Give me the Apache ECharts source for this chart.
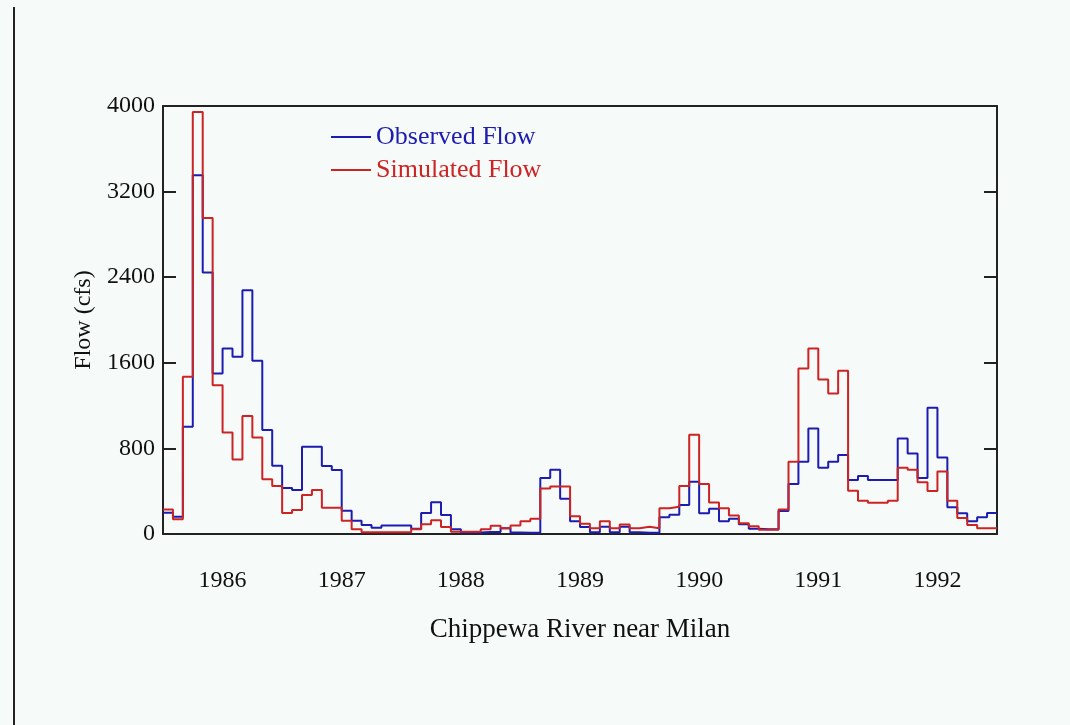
<!DOCTYPE html>
<html>
<head>
<meta charset="utf-8">
<title>Chippewa River near Milan</title>
<script src="https://cdn.jsdelivr.net/npm/echarts@6/dist/echarts.min.js"></script>
<style>
  html, body { margin: 0; padding: 0; background: #f6faf8; }
  #chart { width: 1070px; height: 725px; }
</style>
</head>
<body>
<div id="chart"></div>
<script>
// monthly flow, Jan 1986 .. Dec 1992 (cfs)
const years = ['1986', '1987', '1988', '1989', '1990', '1991', '1992'];
const yTicks = [0, 800, 1600, 2400, 3200, 4000];

const observed = [
  199, 162, 1002, 3352, 2443, 1500, 1734, 1656, 2278, 1618, 971, 638,
  430, 411, 815, 815, 636, 598, 218, 124, 84, 59, 80, 80,
  80, 50, 196, 297, 177, 44, 14, 14, 18, 18, 53, 14,
  12, 12, 523, 600, 330, 120, 65, 16, 68, 16, 68, 16,
  12, 12, 156, 180, 271, 488, 193, 235, 120, 143, 92, 50,
  44, 44, 216, 467, 675, 986, 618, 675, 738, 504, 541, 504,
  504, 504, 893, 753, 523, 1179, 716, 249, 193, 120, 156, 196
];

const simulated = [
  230, 137, 1469, 3943, 2953, 1391, 949, 697, 1102, 903, 511, 448,
  196, 224, 364, 411, 246, 246, 124, 44, 16, 16, 16, 16,
  16, 44, 90, 128, 65, 22, 22, 22, 44, 78, 53, 80,
  120, 143, 426, 445, 445, 166, 96, 53, 118, 53, 89, 53,
  68, 53, 240, 255, 448, 928, 467, 294, 240, 174, 100, 72,
  40, 40, 230, 675, 1547, 1734, 1445, 1313, 1525, 404, 311, 292,
  292, 311, 620, 600, 483, 402, 585, 311, 150, 84, 53, 53
];

// each month is a flat step from i to i+1
const toSteps = (arr) => arr.map((v, i) => [i, v]).concat([[arr.length, arr[arr.length - 1]]]);

const serif = 'Liberation Serif';
const blue = '#1c1cb0';
const red = '#cc2424';
const chart = echarts.init(document.getElementById('chart'), null, { renderer: 'canvas' });

const option = {
  backgroundColor: '#f6faf8',
  animation: false,
  grid: { left: 163, right: 73, top: 106, bottom: 191, containLabel: false },
  legend: {
    orient: 'vertical',
    left: 326,
    top: 119,
    icon: 'rect',
    itemWidth: 40,
    itemHeight: 2,
    itemGap: 7,
    textStyle: { fontFamily: serif, fontSize: 26 },
    data: [
      { name: 'Observed Flow', textStyle: { color: blue } },
      { name: 'Simulated Flow', textStyle: { color: red } }
    ]
  },
  graphic: [
    {
      type: 'line',
      shape: { x1: 14, y1: 7, x2: 14, y2: 725 },
      style: { stroke: '#222', lineWidth: 2 }
    }
  ],
  xAxis: [
    {
      type: 'category',
      data: years,
      position: 'bottom',
      boundaryGap: true,
      axisLine: { lineStyle: { color: '#222', width: 2 } },
      axisTick: { inside: true, length: 20, lineStyle: { color: '#222', width: 2 } },
      axisLabel: { color: '#111', fontFamily: serif, fontSize: 24, margin: 35, interval: 0 },
      splitLine: { show: false },
      name: 'Chippewa River near Milan',
      nameLocation: 'middle',
      nameGap: 82,
      nameTextStyle: { color: '#111', fontFamily: serif, fontSize: 27 }
    },
    {
      type: 'value',
      position: 'top',
      min: 0,
      max: observed.length,
      axisLine: { show: true, onZero: false, lineStyle: { color: '#222', width: 2 } },
      axisTick: { show: false },
      axisLabel: { show: false },
      splitLine: { show: false }
    }
  ],
  yAxis: [
    {
      type: 'value',
      position: 'left',
      min: yTicks[0],
      max: yTicks[yTicks.length - 1],
      interval: 800,
      axisLine: { show: true, lineStyle: { color: '#222', width: 2 } },
      axisTick: { show: true, inside: true, length: 13, lineStyle: { color: '#222', width: 2 } },
      axisLabel: { color: '#111', fontFamily: serif, fontSize: 24, margin: 8, formatter: (v) => String(v) },
      splitLine: { show: false },
      name: 'Flow (cfs)',
      nameLocation: 'middle',
      nameRotate: 90,
      nameGap: 52,
      nameTextStyle: { color: '#111', fontFamily: serif, fontSize: 24 }
    },
    {
      type: 'value',
      position: 'right',
      min: yTicks[0],
      max: yTicks[yTicks.length - 1],
      interval: 800,
      axisLine: { show: true, lineStyle: { color: '#222', width: 2 } },
      axisTick: { show: true, inside: true, length: 13, lineStyle: { color: '#222', width: 2 } },
      axisLabel: { show: false },
      splitLine: { show: false }
    }
  ],
  series: [
    {
      name: 'Observed Flow',
      type: 'line',
      xAxisIndex: 1,
      yAxisIndex: 0,
      step: 'end',
      symbol: 'none',
      data: toSteps(observed),
      lineStyle: { color: blue, width: 2 },
      itemStyle: { color: blue }
    },
    {
      name: 'Simulated Flow',
      type: 'line',
      xAxisIndex: 1,
      yAxisIndex: 0,
      step: 'end',
      symbol: 'none',
      data: toSteps(simulated),
      lineStyle: { color: red, width: 2 },
      itemStyle: { color: red }
    }
  ]
};

chart.setOption(option);
window.addEventListener('resize', chart.resize);
</script>
</body>
</html>
